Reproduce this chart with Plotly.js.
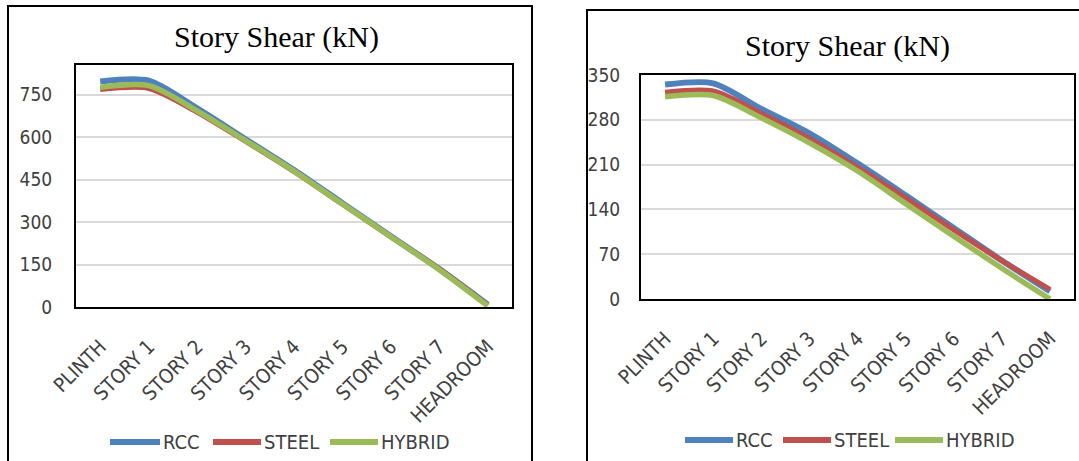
<!DOCTYPE html>
<html>
<head>
<meta charset="utf-8">
<script src="https://cdn.plot.ly/plotly-3.0.1.min.js"></script>
<style>
html,body{margin:0;padding:0;background:#fff;}
#chart{width:1079px;height:461px;}
</style>
</head>
<body>
<div id="chart"></div>
<script>
const categories = ['PLINTH','STORY 1','STORY 2','STORY 3','STORY 4','STORY 5','STORY 6','STORY 7','HEADROOM'];
const seriesNames = ['RCC','STEEL','HYBRID'];
const seriesColors = ['#4F81BD','#C0504D','#9BBB59'];

// Left chart values (kN)
const rccLeft    = [797, 800, 702, 593, 484, 367, 250, 134, 8];
const steelLeft  = [768, 772, 688, 585, 478, 363, 248, 135, 6];
const hybridLeft = [776, 782, 693, 588, 480, 364, 248, 132, 4];

// Right chart values (kN)
const rccRight    = [335, 337, 297, 259, 212, 162, 111, 60, 12];
const steelRight  = [323, 325, 290, 251, 206, 158, 108, 60, 15];
const hybridRight = [316, 318, 283, 244, 200, 149, 98, 48, 0];

const yTicksLeft  = [0, 150, 300, 450, 600, 750];
const yTicksRight = [0, 70, 140, 210, 280, 350];
const chartTitle = 'Story Shear (kN)';

const W = 1079, H = 461;
const px = x => x / W;
const py = y => 1 - y / H;

const widthsLeft = [6, 5, 5.5];
const widthsRight = [6, 5, 5.5];

function mk(vals, i, xa, ya, w) {
  return {
    x: categories, y: vals, xaxis: xa, yaxis: ya, type: 'scatter', mode: 'lines',
    name: seriesNames[i], showlegend: false, hoverinfo: 'skip',
    line: {color: seriesColors[i], width: w, shape: 'spline', smoothing: 0.8}
  };
}

const data = [
  mk(rccLeft, 0, 'x', 'y', widthsLeft[0]),
  mk(steelLeft, 1, 'x', 'y', widthsLeft[1]),
  mk(hybridLeft, 2, 'x', 'y', widthsLeft[2]),
  mk(rccRight, 0, 'x2', 'y2', widthsRight[0]),
  mk(steelRight, 1, 'x2', 'y2', widthsRight[1]),
  mk(hybridRight, 2, 'x2', 'y2', widthsRight[2])
];

const sansFam = '"DejaVu Sans Condensed", "Liberation Sans Narrow", "Liberation Sans", Arial, sans-serif';
const tickFont = {family: sansFam, size: 20, color: '#404040'};
const yTickFont = {family: sansFam, size: 19, color: '#404040'};

function xAxis(domain, anchor) {
  return {
    domain: domain, anchor: anchor, type: 'category', range: [-0.5, 8.5],
    tickangle: -45, showline: true, mirror: true, linecolor: '#000', linewidth: 2,
    showgrid: false, zeroline: false, ticks: '', tickfont: tickFont, ticklabelstandoff: 18,
    fixedrange: true
  };
}
function yAxis(domain, anchor, range, tickvals, standoff) {
  return {
    domain: domain, anchor: anchor, range: range, tickvals: tickvals,
    showline: true, mirror: true, linecolor: '#000', linewidth: 2,
    showgrid: true, gridcolor: '#D9D9D9', gridwidth: 2, zeroline: false,
    ticks: '', tickfont: yTickFont, ticklabelstandoff: standoff, fixedrange: true
  };
}

const shapes = [
  {type: 'rect', xref: 'paper', yref: 'paper', x0: px(8), x1: px(532), y0: py(475), y1: py(6), line: {color: '#000', width: 2}, layer: 'below'},
  {type: 'rect', xref: 'paper', yref: 'paper', x0: px(587), x1: px(1100), y0: py(475), y1: py(10), line: {color: '#000', width: 2}, layer: 'below'}
];
const annotations = [
  {xref: 'paper', yref: 'paper', x: px(276), y: py(37), text: chartTitle, showarrow: false, xanchor: 'center', yanchor: 'middle',
   font: {family: '"Liberation Serif", "Times New Roman", serif', size: 30, color: '#000'}},
  {xref: 'paper', yref: 'paper', x: px(847), y: py(46), text: chartTitle, showarrow: false, xanchor: 'center', yanchor: 'middle',
   font: {family: '"Liberation Serif", "Times New Roman", serif', size: 30, color: '#000'}}
];

// custom legends
const legendLeft = {y: 442, items: [[110, 160], [213, 261], [330, 378]]};
const legendRight = {y: 440, items: [[685, 733], [783, 831], [895, 943]]};
[legendLeft, legendRight].forEach(lg => {
  lg.items.forEach((it, i) => {
    shapes.push({type: 'line', xref: 'paper', yref: 'paper', x0: px(it[0]), x1: px(it[1]), y0: py(lg.y), y1: py(lg.y),
      line: {color: seriesColors[i], width: 6}});
    annotations.push({xref: 'paper', yref: 'paper', x: px(it[1] + 1), y: py(lg.y), text: seriesNames[i], showarrow: false,
      xanchor: 'left', yanchor: 'middle', font: {family: sansFam, size: 20, color: '#404040'}});
  });
});

const layout = {
  width: W, height: H, margin: {l: 0, r: 0, t: 0, b: 0},
  paper_bgcolor: '#fff', plot_bgcolor: '#fff', showlegend: false,
  xaxis: xAxis([px(76), px(512)], 'y'),
  yaxis: yAxis([py(307), py(65)], 'x', [0, 855], yTicksLeft, 18),
  xaxis2: xAxis([px(641), px(1074)], 'y2'),
  yaxis2: yAxis([py(299), py(75)], 'x2', [0, 350], yTicksRight, 15),
  shapes: shapes, annotations: annotations
};

Plotly.newPlot('chart', data, layout, {staticPlot: true, displayModeBar: false});
</script>
</body>
</html>
